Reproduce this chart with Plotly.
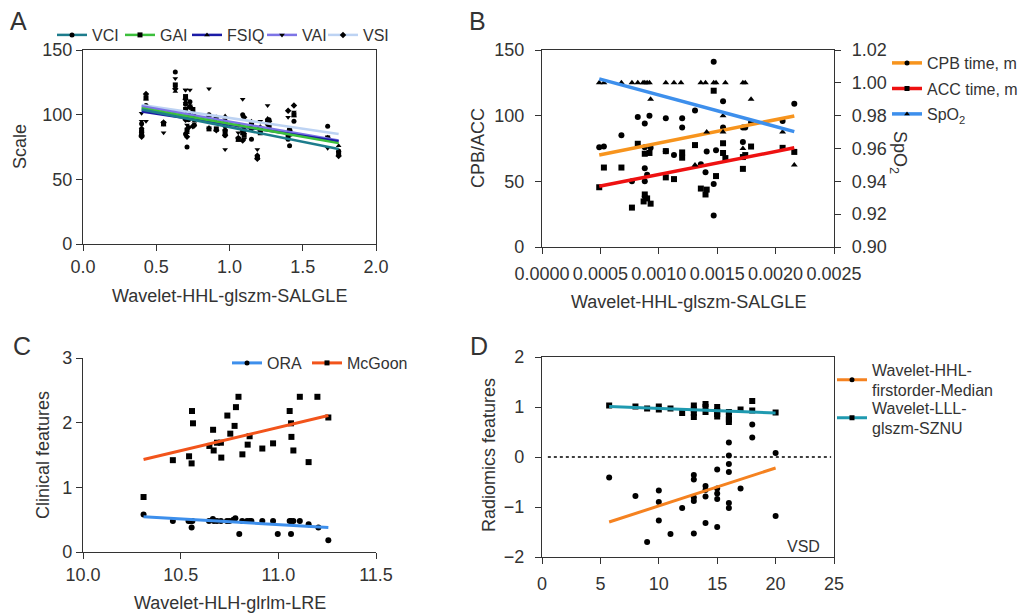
import plotly.graph_objects as go

# ---------------- DATA ----------------
# Panel A: Wavelet-HHL-glszm-SALGLE vs IQ scales
A_X = [0.40, 0.40, 0.43, 0.55, 0.63, 0.70, 0.70, 0.71, 0.72, 0.73, 0.75, 0.76, 0.86, 0.91, 0.97,
       0.97, 1.06, 1.09, 1.10, 1.15, 1.19, 1.21, 1.26, 1.27, 1.40, 1.41, 1.44, 1.67, 1.745]
A_VCI = [93, 84, 107, 93, 133, 108, 85, 75, 96, 110, 99, 92, 100, 98, 88,
         84, 92, 100, 88, 81, 68, 88, 93, 96, 81, 76, 95, 91, 72]
A_GAI = [88, 86, 113, 93, 123, 114, 104, 88, 100, 106, 104, 97, 89, 89, 93,
         87, 81, 86, 84, 92, 67, 86, 95, 91, 84, 88, 100, 82, 70]
A_FSIQ = [90, 87, 112, 92, 118, 110, 100, 86, 98, 107, 100, 95, 90, 88, 99,
          85, 80, 88, 86, 95, 69, 90, 97, 92, 82, 84, 99, 80, 76]
A_VAI = [101, 95, 95, 86, 128, 119, 119, 92, 101, 119, 98, 91, 120, 97, 96,
         73, 86, 112, 81, 92, 73, 95, 107, 94, 98, 86, 102, 74, 71]
A_VSI = [84, 83, 116, 94, 120, 112, 96, 83, 90, 106, 91, 99, 99, 88, 91,
         84, 82, 80, 98, 89, 66, 90, 93, 95, 103, 88, 107, 82, 68]
A_FIT_X = [0.40, 1.745]
A_FIT_VCI = [104, 73.5]
A_FIT_GAI = [105, 78]
A_FIT_FSIQ = [102.5, 79.5]
A_FIT_VAI = [106.5, 80]
A_FIT_VSI = [107.5, 85]

# Panel B: Wavelet-HHL-glszm-SALGLE vs surgical data
B_CPB_X = [0.00049, 0.00053, 0.00068, 0.00077, 0.00082, 0.00088, 0.00088, 0.00088, 0.00088, 0.00088,
           0.00090, 0.00092, 0.00093, 0.00106, 0.00106, 0.00113, 0.00120, 0.00120, 0.00131, 0.00136,
           0.00140, 0.00141, 0.00147, 0.00147, 0.00147, 0.00149, 0.00155, 0.00155, 0.00172, 0.00172,
           0.00174, 0.00179, 0.00206, 0.00216]
B_CPB = [76, 76.5, 85, 50, 99, 76, 94, 60, 50, 38.5,
         55, 100, 75.5, 98, 73, 70, 98, 91, 104, 63,
         57, 72.7, 141, 48, 24, 73.7, 111, 91, 80, 91,
         91, 95, 96, 109]
B_ACC_X = [0.00049, 0.00053, 0.00068, 0.00077, 0.00082, 0.00087, 0.00088, 0.00088, 0.00090, 0.00092,
           0.00093, 0.00106, 0.00106, 0.00113, 0.00120, 0.00120, 0.00131, 0.00136, 0.00140, 0.00141,
           0.00147, 0.00149, 0.00155, 0.00155, 0.00157, 0.00172, 0.00172, 0.00174, 0.00179, 0.00206,
           0.00216]
B_ACC = [45.5, 60.5, 60.5, 30, 78.6, 34.7, 40, 71, 37, 71.6,
         33, 73, 53, 51.7, 72, 68, 77.6, 44.5, 40, 43.7,
         119, 54, 79, 71.6, 67.7, 68.5, 59.5, 70, 76.5, 75.5,
         72.4]
B_SPO2_X = [0.00049, 0.00053, 0.00068, 0.00077, 0.00082, 0.000865, 0.00088, 0.00090, 0.00092, 0.00093,
            0.00106, 0.00113, 0.00119, 0.00131, 0.00136, 0.00140, 0.00141, 0.00147, 0.00149, 0.00155,
            0.00155, 0.00157, 0.00172, 0.00172, 0.00174, 0.00179, 0.00206, 0.00216]
B_SPO2 = [1.00, 1.00, 1.00, 1.00, 1.00, 1.00, 1.00, 1.00, 1.00, 0.99,
          1.00, 1.00, 1.00, 0.95, 1.00, 1.00, 0.97, 1.00, 1.00, 0.98,
          0.97, 1.00, 1.00, 0.96, 1.00, 0.99, 0.97, 0.95]
B_FIT_X = [0.00049, 0.00216]
B_FIT_CPB = [70, 99.8]
B_FIT_ACC = [46.3, 75.5]
B_FIT_SPO2 = [1.0024, 0.9703]

# Panel C: Wavelet-HLH-glrlm-LRE vs clinical features
C_ORA_X = [10.31, 10.46, 10.54, 10.55, 10.56, 10.556, 10.645, 10.665, 10.67, 10.686, 10.706, 10.737,
           10.75, 10.77, 10.78, 10.80, 10.815, 10.84, 10.853, 10.862, 10.918, 10.973, 10.997, 11.058,
           11.065, 11.065, 11.077, 11.11, 11.155, 11.205, 11.256]
C_ORA = [0.58, 0.48, 0.48, 0.48, 0.48, 0.38, 0.48, 0.51, 0.48, 0.48, 0.48, 0.48,
         0.48, 0.50, 0.52, 0.28, 0.48, 0.48, 0.48, 0.48, 0.48, 0.48, 0.28, 0.48,
         0.48, 0.28, 0.48, 0.48, 0.43, 0.38, 0.18]
C_MCG_X = [10.31, 10.46, 10.543, 10.556, 10.558, 10.563, 10.647, 10.666, 10.669, 10.686, 10.706, 10.708,
           10.739, 10.754, 10.776, 10.783, 10.796, 10.816, 10.843, 10.853, 10.918, 10.973, 11.058,
           11.065, 11.067, 11.077, 11.11, 11.155, 11.20, 11.256]
C_MCG = [0.85, 1.42, 1.48, 1.37, 2.18, 1.99, 1.64, 1.89, 1.57, 1.69, 1.69, 1.46,
         2.11, 1.83, 1.95, 2.24, 2.40, 1.51, 1.66, 1.79, 1.60, 1.68, 2.18,
         1.99, 1.78, 1.57, 2.40, 1.39, 2.40, 2.08]
C_FIT_X = [10.31, 11.256]
C_FIT_ORA = [0.545, 0.38]
C_FIT_MCG = [1.43, 2.11]

# Panel D: VSD vs radiomics features
D_SZNU_X = [5.75, 8, 9, 10, 10, 11, 12, 13, 13, 13, 13, 14, 14, 14,
            15, 15, 15, 15, 16, 16, 16, 16, 17, 18, 18, 20]
D_SZNU = [1.03, 1.01, 0.97, 1.01, 0.95, 0.97, 0.88, 1.03, 0.95, 0.88, 0.80, 1.06, 1.00, 0.90,
          1.00, 0.92, 0.86, 0.81, 0.90, 0.82, 0.75, 0.70, 0.95, 1.12, 0.93, 0.89]
D_MED_X = [5.75, 8, 9, 10, 10, 10, 11, 12, 13, 13, 13, 13, 13, 14, 14, 14, 14,
           15, 15, 15, 15, 15, 16, 16, 16, 16, 16, 16, 17, 18, 18, 20, 20]
D_MED = [-0.41, -0.78, -1.70, -0.67, -0.90, -1.27, -1.54, -1.02, -0.36, -0.45, -0.81, -0.88, -1.53,
         -0.58, -0.66, -0.79, -1.32, -0.25, -0.63, -0.73, -0.84, -1.40, 0.29, 0.03, -0.14, -0.30,
         -0.92, -1.02, -0.63, 0.65, 0.39, 0.08, -1.18]
D_FIT_X = [5.75, 20]
D_FIT_MED = [-1.30, -0.22]
D_FIT_SZNU = [1.01, 0.88]

# ---------------- STYLE / LAYOUT ----------------
W, H = 1020, 614
FONT = "Liberation Sans, Arial, Helvetica, sans-serif"
TXT = "#333333"


def fx(p):
    return p / W


def fy(p):
    return 1 - p / H


fig = go.Figure()
legends = {}


def add_series(xs, ys, sym, xa, ya, size=6):
    fig.add_trace(go.Scatter(x=xs, y=ys, mode="markers", xaxis=xa, yaxis=ya, showlegend=False,
                             marker=dict(symbol=sym, size=size, color="black"), hoverinfo="skip"))


def add_fit(xs, ys, color, width, xa, ya):
    fig.add_trace(go.Scatter(x=xs, y=ys, mode="lines", xaxis=xa, yaxis=ya, showlegend=False,
                             line=dict(color=color, width=width), hoverinfo="skip"))


def add_key(name, color, sym, text_x, y_mid, width=2.5):
    # one legend per entry so every key sits where the reference has it
    key = "legend" if not legends else "legend%d" % (len(legends) + 1)
    legends[key] = dict(x=fx(text_x - 40), y=fy(y_mid), xanchor="left", yanchor="middle",
                        bgcolor="rgba(0,0,0,0)", borderwidth=0,
                        font=dict(family=FONT, size=16, color=TXT))
    fig.add_trace(go.Scatter(x=[None], y=[None], mode="lines+markers", name=name, legend=key,
                             line=dict(color=color, width=width),
                             marker=dict(symbol=sym, size=5, color="black")))


# Panel A
A_SERIES = [("VCI", A_VCI, A_FIT_VCI, "circle", "#1d7c8c", 92),
            ("GAI", A_GAI, A_FIT_GAI, "square", "#3cbf3c", 160),
            ("FSIQ", A_FSIQ, A_FIT_FSIQ, "triangle-up", "#1b1ba6", 227),
            ("VAI", A_VAI, A_FIT_VAI, "triangle-down", "#7d74e6", 302),
            ("VSI", A_VSI, A_FIT_VSI, "diamond", "#bdd3f3", 363)]
for name, vals, fit, sym, col, tx in A_SERIES:
    add_series(A_X, vals, sym, "x", "y", size=5)
for name, vals, fit, sym, col, tx in reversed(A_SERIES):
    add_fit(A_FIT_X, fit, col, 2.5, "x", "y")
for name, vals, fit, sym, col, tx in A_SERIES:
    add_key(name, col, sym, tx, 35)

# Panel B
add_series(B_CPB_X, B_CPB, "circle", "x2", "y2")
add_series(B_ACC_X, B_ACC, "square", "x2", "y2")
add_series(B_SPO2_X, B_SPO2, "triangle-up", "x2", "y5")
add_fit(B_FIT_X, B_FIT_CPB, "#f7941d", 3.5, "x2", "y2")
add_fit(B_FIT_X, B_FIT_ACC, "#ee1111", 3.5, "x2", "y2")
add_fit(B_FIT_X, B_FIT_SPO2, "#3d8fec", 3.5, "x2", "y5")
add_key("CPB time, m", "#f7941d", "circle", 927, 63, 3.5)
add_key("ACC time, m", "#ee1111", "square", 927, 88.5, 3.5)
add_key("SpO<sub>2</sub>", "#3d8fec", "triangle-up", 927, 114, 3.5)

# Panel C
add_series(C_ORA_X, C_ORA, "circle", "x3", "y3")
add_series(C_MCG_X, C_MCG, "square", "x3", "y3")
add_fit(C_FIT_X, C_FIT_ORA, "#3d8fec", 3, "x3", "y3")
add_fit(C_FIT_X, C_FIT_MCG, "#f2541b", 3, "x3", "y3")
add_key("ORA", "#3d8fec", "circle", 267, 363, 3)
add_key("McGoon", "#f2541b", "square", 347, 363, 3)

# Panel D
add_series(D_MED_X, D_MED, "circle", "x4", "y4")
add_series(D_SZNU_X, D_SZNU, "square", "x4", "y4")
add_fit(D_FIT_X, D_FIT_MED, "#f58220", 3, "x4", "y4")
add_fit(D_FIT_X, D_FIT_SZNU, "#1f9ab0", 3, "x4", "y4")
add_key("Wavelet-HHL-<br>firstorder-Median", "#f58220", "circle", 872, 380, 3)
add_key("Wavelet-LLL-<br>glszm-SZNU", "#1f9ab0", "square", 872, 418, 3)

tickfont = dict(family=FONT, size=18, color=TXT)
base = dict(showgrid=False, zeroline=False, showline=True, linecolor="#333333", linewidth=1.3,
            ticks="outside", ticklen=6, tickwidth=1.3, tickcolor="#333333", tickfont=tickfont,
            automargin=False, tickangle=0)
# panels B and D keep their tick labels a little further from the axes
wide = dict(base, ticklabelstandoff=7)
wide_x = dict(base, ticklabelstandoff=4)

# panel boxes (pixel positions in the 1020x614 canvas)
AX_A = dict(x=(83, 376), y=(244, 50))
AX_B = dict(x=(542, 834), y=(247, 50))
AX_C = dict(x=(83, 376), y=(552, 358))
AX_D = dict(x=(542, 834), y=(557, 357))


def dom_x(b):
    return [fx(b["x"][0]), fx(b["x"][1])]


def dom_y(b):
    return [fy(b["y"][0]), fy(b["y"][1])]


fig.update_layout(
    width=W, height=H, margin=dict(l=0, r=0, t=0, b=0, autoexpand=False),
    paper_bgcolor="white", plot_bgcolor="white",
    font=dict(family=FONT, size=16, color=TXT),
    xaxis=dict(base, domain=dom_x(AX_A), range=[0, 2], tickvals=[0, 0.5, 1, 1.5, 2],
               tickformat=".1f", mirror=True, anchor="y"),
    yaxis=dict(base, domain=dom_y(AX_A), range=[0, 150], tickvals=[0, 50, 100, 150],
               mirror=True, anchor="x"),
    xaxis2=dict(wide_x, domain=dom_x(AX_B), range=[0, 0.0025],
                tickvals=[0, 0.0005, 0.001, 0.0015, 0.002, 0.0025], tickformat=".4f",
                mirror=True, anchor="y2"),
    yaxis2=dict(wide, domain=dom_y(AX_B), range=[0, 150], tickvals=[0, 50, 100, 150],
                anchor="x2"),
    yaxis5=dict(wide, range=[0.90, 1.02], tickvals=[0.90, 0.92, 0.94, 0.96, 0.98, 1.00, 1.02],
                tickformat=".2f", overlaying="y2", side="right", anchor="x2"),
    xaxis3=dict(base, domain=dom_x(AX_C), range=[10, 11.5], tickvals=[10, 10.5, 11, 11.5],
                tickformat=".1f", anchor="y3"),
    yaxis3=dict(base, domain=dom_y(AX_C), range=[0, 3], tickvals=[0, 1, 2, 3], anchor="x3"),
    xaxis4=dict(wide_x, domain=dom_x(AX_D), range=[0, 25], tickvals=[0, 5, 10, 15, 20, 25],
                mirror=True, anchor="y4"),
    yaxis4=dict(wide, domain=dom_y(AX_D), range=[-2, 2], tickvals=[-2, -1, 0, 1, 2],
                mirror=True, anchor="x4"),
    **legends,
)

# zero reference line in panel D
fig.add_shape(type="line", xref="x4 domain", yref="y4", x0=0.02, x1=0.99, y0=0, y1=0,
              line=dict(color="black", width=1.5, dash="dot"))


def note(text, x, y, size=18, angle=0, xanchor="center", yanchor="middle"):
    fig.add_annotation(text=text, x=fx(x), y=fy(y), xref="paper", yref="paper", showarrow=False,
                       textangle=angle, xanchor=xanchor, yanchor=yanchor,
                       font=dict(family=FONT, size=size, color=TXT))


# panel letters
note("A", 18, 21, size=25)
note("B", 477, 21, size=25)
note("C", 22, 346, size=25)
note("D", 479, 346, size=25)

# axis titles
note("Wavelet-HHL-glszm-SALGLE", 229.5, 296)
note("Scale", 20, 147, angle=-90)
note("Wavelet-HHL-glszm-SALGLE", 688, 302)
note("CPB/ACC", 478, 148, angle=-90)
note("SpO<sub>2</sub>", 899, 152, angle=90)
note("Wavelet-HLH-glrlm-LRE", 229.5, 603)
note("Clinical features", 43, 455, angle=-90)
note("Radiomics features", 489, 455, angle=-90)
note("VSD", 803, 546, size=16)

# the page's default 8px body margin would shift the 1020x614 figure; remove it
fig.write_html("out.html", config={"displayModeBar": False},
               post_script="document.body.style.margin='0';")
